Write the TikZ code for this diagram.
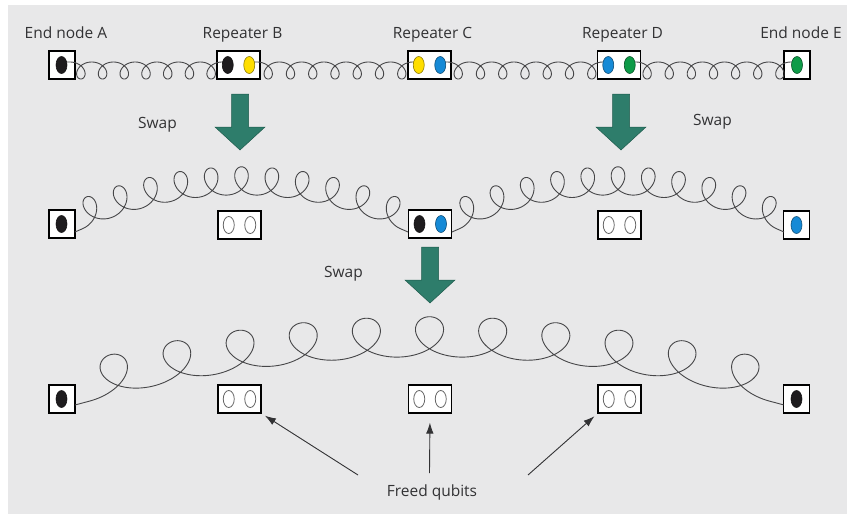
\documentclass[tikz,border=0pt]{standalone}
\usepackage{fontspec}
\setmainfont{Open Sans}
\usetikzlibrary{shapes.geometric,arrows.meta}
\definecolor{bg}{RGB}{232,232,233}
\definecolor{txt}{RGB}{50,50,52}
\definecolor{coilc}{RGB}{70,70,72}
\definecolor{swapg}{RGB}{46,125,107}
\definecolor{swapd}{RGB}{30,90,76}
\definecolor{dblack}{RGB}{30,28,30}
\definecolor{dyellow}{RGB}{255,222,0}
\definecolor{dblue}{RGB}{22,138,214}
\definecolor{dgreen}{RGB}{14,155,72}
% coil: #1 xs, #2 xe, #3 ye, #4 h, #5 n, #6 bx, #7 by, #8 u0, #9 samples
\newcommand\qcoil[9]{%
  \pgfmathsetmacro\qL{#2-#1}%
  \pgfmathsetmacro\qdE{4*#4/\qL}%
  \pgfmathsetmacro\qnE{sqrt(1+\qdE*\qdE)}%
  \pgfmathsetmacro\qsh{(#7)*\qdE/\qnE}%
  \pgfmathsetmacro\qxa{#1-\qsh}%
  \pgfmathsetmacro\qxb{#2+\qsh}%
  \pgfmathsetmacro\qLL{\qxb-\qxa}%
  \pgfmathsetmacro\qyb{#3-(#7)/\qnE}%
  \def\qh{#4}\def\qn{#5}\def\qbx{#6}\def\qby{#7}\def\quo{#8}%
  \draw[coilline] plot[domain=0:1, samples=#9, variable=\u] ({qx(\u)},{qy(\u)});%
}
\begin{document}
\begin{tikzpicture}[x=1pt,y=-1pt,
  box/.style={draw=black, fill=white, line width=1.1pt, minimum height=28pt, inner sep=0pt},
  endbox/.style={box, minimum width=26pt},
  repbox/.style={box, minimum width=43pt},
  qdot/.style={ellipse, minimum width=11pt, minimum height=17pt, inner sep=0pt, draw=#1!55!black, fill=#1, line width=0.6pt},
  emptydot/.style={ellipse, minimum width=11pt, minimum height=17pt, inner sep=0pt, draw=black!60, fill=white, line width=0.8pt},
  lbl/.style={text=txt, font=\fontsize{15.5}{18}\selectfont, anchor=base, inner sep=0pt},
  coilline/.style={draw=coilc, line width=0.9pt, line join=round},
  swaparrow/.style={fill=swapg, draw=swapd, line width=0.5pt},
  freed/.style={draw=txt, line width=0.9pt, -{Latex[length=11pt,width=7.5pt]}},
  declare function={
    qdy(\v)=-4*\qh*(1-2*\v)/\qLL;
    qnr(\v)=sqrt(1+qdy(\v)*qdy(\v));
    qt(\v)=360*\qn*min(max((\v-\quo)/(1-2*\quo),0),1);
    qx(\v)=\qxa+\qLL*\v+((\qbx)*sin(qt(\v))-(\qby)*cos(qt(\v))*qdy(\v))/qnr(\v);
    qy(\v)=\qyb-4*\qh*\v*(1-\v)+((\qbx)*sin(qt(\v))*qdy(\v)+(\qby)*cos(qt(\v)))/qnr(\v);
  }]
\useasboundingbox (0,0) rectangle (847,514);
\fill[white] (0,0) rectangle (847,514);
\fill[bg] (8,5) rectangle (847,514);

% labels
\node[lbl] (lA) at (66,38) {End node A};
\node[lbl] (lB) at (242.5,38) {Repeater B};
\node[lbl] (lC) at (432.5,38) {Repeater C};
\node[lbl] (lD) at (622.5,38) {Repeater D};
\node[lbl] (lE) at (801,38) {End node E};

% row 1 boxes
\node[endbox] (A1) at (62,65) {};
\node[repbox] (B1) at (238.5,65) {};
\node[repbox] (C1) at (429.5,65) {};
\node[repbox] (D1) at (619,65) {};
\node[endbox] (E1) at (797,65) {};
% row 2 boxes
\node[endbox] (A2) at (62,224) {};
\node[repbox] (B2) at (239.5,225) {};
\node[repbox] (C2) at (430,224) {};
\node[repbox] (D2) at (619.5,225) {};
\node[endbox] (E2) at (796.5,225) {};
% row 3 boxes
\node[endbox] (A3) at (62,399) {};
\node[repbox] (B3) at (239.5,399) {};
\node[repbox] (C3) at (430,399) {};
\node[repbox] (D3) at (619.5,399) {};
\node[endbox] (E3) at (796.5,399) {};

% coils row 1
\qcoil{66}{226}{62}{0}{7}{9}{-8.5}{0.025}{420}
\qcoil{253}{417}{62}{0}{7}{9}{-8.5}{0.025}{420}
\qcoil{443}{607}{62}{0}{7}{9}{-8.5}{0.025}{420}
\qcoil{632}{795}{62}{0}{7}{9}{-8.5}{0.025}{420}
% coils row 2
\qcoil{75}{408}{232}{38.5}{11}{13.5}{14}{0.022}{800}
\qcoil{452}{784}{232}{38.5}{11}{13.5}{14}{0.022}{800}
% coil row 3
\qcoil{75}{784}{405}{49}{11}{28}{20}{0.02}{1100}

% dots row 1
\node[qdot=dblack] (a1) at (61.5,65) {};
\node[qdot=dblack] (b1l) at (227.75,65) {};
\node[qdot=dyellow] (b1r) at (249.25,65) {};
\node[qdot=dyellow] (c1l) at (418.75,65) {};
\node[qdot=dblue] (c1r) at (440.25,65) {};
\node[qdot=dblue] (d1l) at (608.25,65) {};
\node[qdot=dgreen] (d1r) at (629.75,65) {};
\node[qdot=dgreen] (e1) at (797,65) {};
% dots row 2
\node[qdot=dblack] (a2) at (61.5,224) {};
\node[emptydot] (b2l) at (228.75,225) {};
\node[emptydot] (b2r) at (250.25,225) {};
\node[qdot=dblack] (c2l) at (419.5,224) {};
\node[qdot=dblue] (c2r) at (441,224) {};
\node[emptydot] (d2l) at (608.75,225) {};
\node[emptydot] (d2r) at (630.25,225) {};
\node[qdot=dblue] (e2) at (796.5,225) {};
% dots row 3
\node[qdot=dblack] (a3) at (61.5,399) {};
\node[emptydot] (b3l) at (228.75,399) {};
\node[emptydot] (b3r) at (250.25,399) {};
\node[emptydot] (c3l) at (419.25,399) {};
\node[emptydot] (c3r) at (440.75,399) {};
\node[emptydot] (d3l) at (608.75,399) {};
\node[emptydot] (d3r) at (630.25,399) {};
\node[qdot=dblack] (e3) at (796.5,399) {};

% swap arrows
\filldraw[swaparrow] (231.5,94) -- (248.5,94) -- (248.5,127) -- (265,127) -- (240,150) -- (215,127) -- (231.5,127) -- cycle;
\filldraw[swaparrow] (612.5,94) -- (629.5,94) -- (629.5,127) -- (646,127) -- (621,150) -- (596,127) -- (612.5,127) -- cycle;
\filldraw[swaparrow] (421.5,247) -- (438.5,247) -- (438.5,280) -- (455,280) -- (430,303) -- (405,280) -- (421.5,280) -- cycle;
\node[lbl] (s1) at (157.5,128) {Swap};
\node[lbl] (s2) at (712.5,125) {Swap};
\node[lbl] (s3) at (343.5,277) {Swap};

% freed qubits
\node[lbl] (fq) at (432,496) {Freed qubits};
\coordinate (fa) at (358,475);
\coordinate (fb) at (429.5,473);
\coordinate (fc) at (528,475);
\draw[freed, shorten >=4pt] (fa) -- (B3.south east);
\draw[freed, shorten >=9pt] (fb) -- (C3.south);
\draw[freed, shorten >=4pt] (fc) -- (D3.south west);
\end{tikzpicture}
\end{document}
